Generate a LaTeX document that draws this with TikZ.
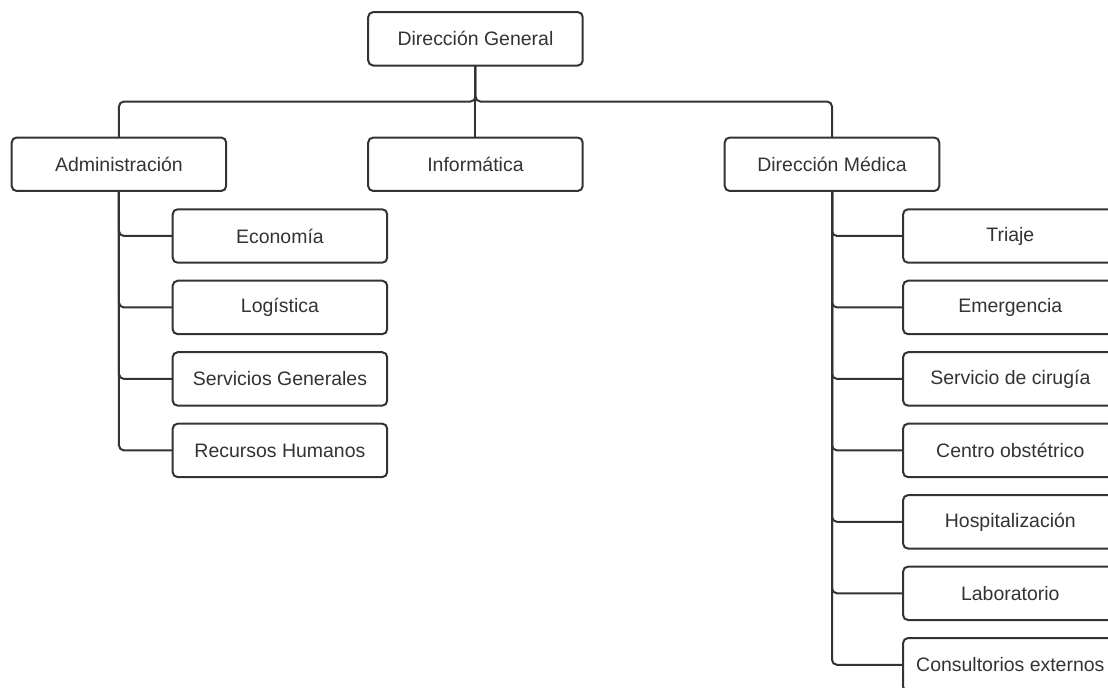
\documentclass[tikz,border=0pt]{standalone}
\usepackage{fontspec}
\setmainfont{Liberation Sans}
\usepackage{xcolor}
\usetikzlibrary{positioning}
\definecolor{ink}{HTML}{333333}
\tikzset{
  unit/.style={rectangle,draw=ink,fill=white,rounded corners=3.75pt,line width=1.5pt,
    minimum width=160.9pt,minimum height=40.1pt,align=center,inner sep=2pt,outer sep=0pt,
    text=ink,font=\fontsize{14.6pt}{17pt}\selectfont},
  link/.style={draw=ink,line width=1.5pt,rounded corners=3.75pt},
}

\begin{document}
\begin{tikzpicture}[node distance=13.5pt and 106.5pt]
  \useasboundingbox (0,0) rectangle (831pt,-516pt);
  \clip (0,0) rectangle (831pt,-516pt);
  \node[unit] (dg) at (356.6pt,-29.1pt) {Dirección General};
  \node[unit,below=54pt of dg] (inf) {Informática};
  \node[unit,left=of inf] (adm) {Administración};
  \node[unit,right=of inf] (dm) {Dirección Médica};
  % administracion
  \node[unit,below right=13.7pt and 40.3pt of adm.south] (eco) {Economía};
  \node[unit,below=of eco] (log) {Logística};
  \node[unit,below=of log] (sg) {Servicios Generales};
  \node[unit,below=of sg] (rh) {Recursos Humanos};
  % direccion medica
  \node[unit,below right=13.7pt and 53.3pt of dm.south] (tri) {Triaje};
  \node[unit,below=of tri] (eme) {Emergencia};
  \node[unit,below=of eme] (cir) {Servicio de cirugía};
  \node[unit,below=of cir] (obs) {Centro obstétrico};
  \node[unit,below=of obs] (hos) {Hospitalización};
  \node[unit,below=of hos] (lab) {Laboratorio};
  \node[unit,below=of lab] (con) {Consultorios externos};
  \draw[link] (dg.south) -- (inf.north);
  \draw[link] (dg.south) -- ++(0,-27pt) -| (adm.north);
  \draw[link] (dg.south) -- ++(0,-27pt) -| (dm.north);
  \foreach \k in {eco,log,sg,rh} \draw[link] (adm.south) |- (\k.west);
  \foreach \k in {tri,eme,cir,obs,hos,lab,con} \draw[link] (dm.south) |- (\k.west);
\end{tikzpicture}
\end{document}
